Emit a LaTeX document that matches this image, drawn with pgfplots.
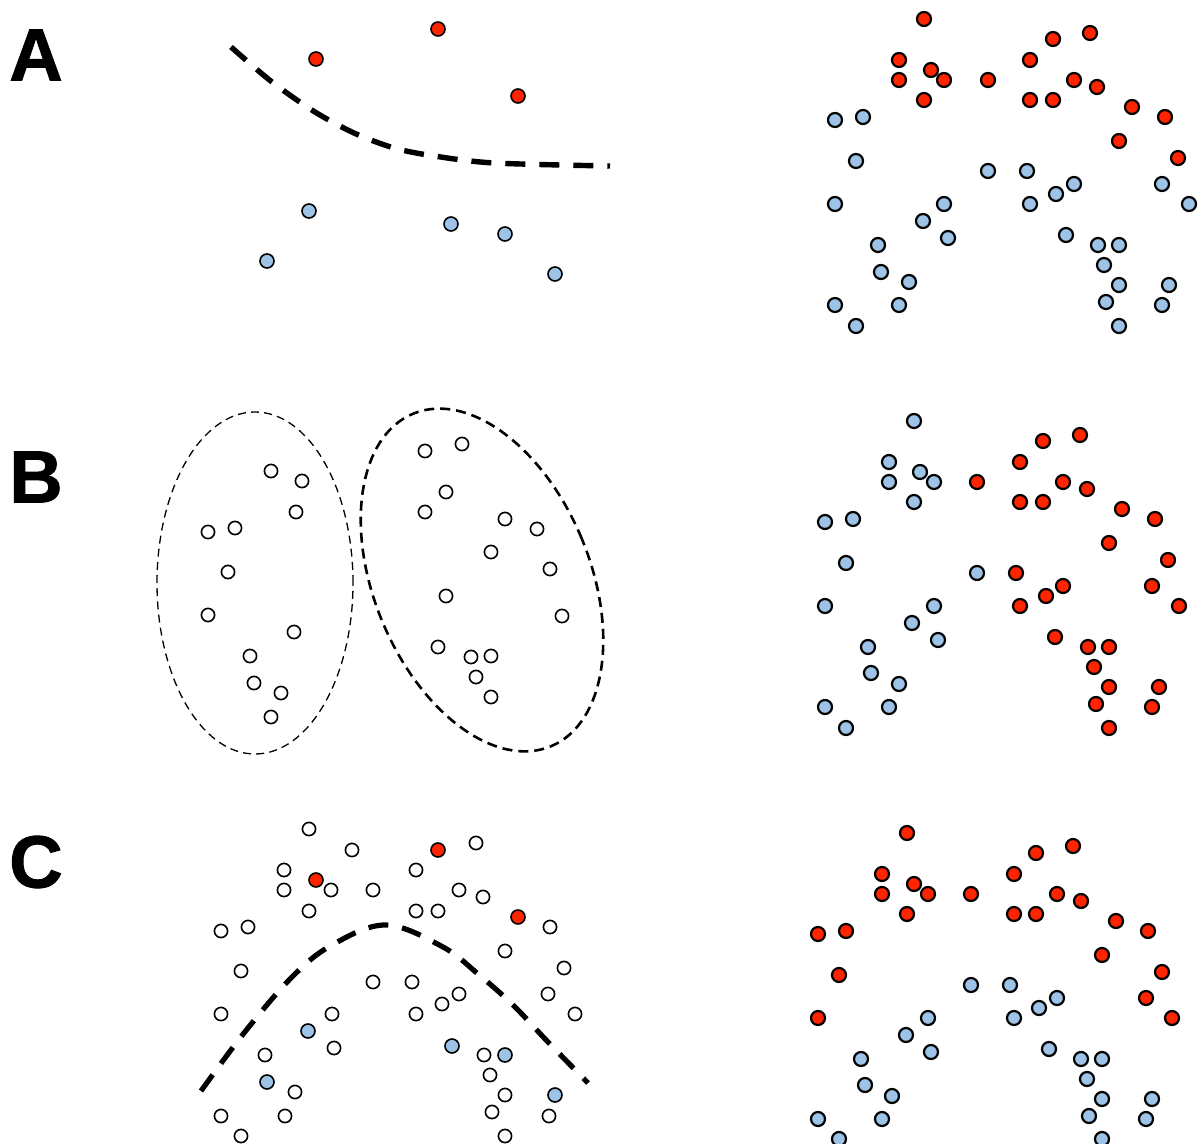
\documentclass[border=0pt]{standalone}
\usepackage{fontspec}
\setmainfont{Liberation Sans}
\newfontfamily\heavyfont[BoldFeatures={FakeBold=1.2}]{Liberation Sans}
\usepackage{pgfplots}
\pgfplotsset{compat=1.18}
\definecolor{dred}{RGB}{255,36,0}
\definecolor{dblue}{RGB}{157,195,230}
\begin{document}
\begin{tikzpicture}
\begin{axis}[
  width=599.5pt, height=572pt, scale only axis,
  xmin=0, xmax=1199, ymin=0, ymax=1144, y dir=reverse,
  hide axis, clip marker paths=true,
  redR/.style={only marks, mark=*, mark size=3.5pt, mark options={fill=dred, draw=black, line width=1.1pt}},
  bluR/.style={only marks, mark=*, mark size=3.5pt, mark options={fill=dblue, draw=black, line width=1.1pt}},
  redL/.style={only marks, mark=*, mark size=3.5pt, mark options={fill=dred, draw=black, line width=0.8pt}},
  bluL/.style={only marks, mark=*, mark size=3.5pt, mark options={fill=dblue, draw=black, line width=0.8pt}},
  opn/.style={only marks, mark=*, mark size=3.3pt, mark options={fill=white, draw=black, line width=0.8pt}},
]
\coordinate (bl) at (rel axis cs:0,0);
\coordinate (tr) at (rel axis cs:1,1);
% ---------------- Panel A left
\addplot[black, line width=2.7pt, dash pattern=on 10pt off 7pt, smooth] coordinates {
(231,47) (272,82) (315,112) (354,133) (394,148) (434,156) (494,163) (610,166)};
\addplot[redL] coordinates {(316,59) (438,29) (518,96)};
\addplot[bluL] coordinates {(309,211) (267,261) (451,224) (505,234) (555,274)};
% ---------------- Panel A right
\addplot[redR] coordinates {
(924,19) (1053,39) (1090,33) (899,60) (931,70) (944,80) (899,80) (924,100)
(988,80) (1030,60) (1074,80) (1097,87) (1030,100) (1053,100) (1132,107)
(1165,117) (1119,141) (1178,158)};
\addplot[bluR] coordinates {
(835,120) (863,117) (856,161) (988,171) (1027,171) (1074,184) (1056,194)
(1162,184) (835,204) (944,204) (1030,204) (1189,204) (923,221) (948,238)
(1066,235) (878,245) (1098,245) (1119,245) (1104,265) (881,272) (909,282)
(1119,285) (1169,285) (835,305) (899,305) (1106,302) (1162,305) (856,326)
(1119,326)};
% ---------------- Panel B left
\draw[black, line width=0.65pt, dash pattern=on 4pt off 2.6pt] (axis cs:255,583) ellipse [x radius=49pt, y radius=85.5pt];
\draw[black, line width=1.3pt, dash pattern=on 5pt off 3pt] (axis cs:482,580) ellipse [x radius=54pt, y radius=90pt, rotate=22.5];
\addplot[opn] coordinates {
(271,471) (302,481) (296,512) (208,532) (235,528) (228,572) (208,615)
(294,632) (250,656) (254,683) (281,693) (271,717)};
\addplot[opn] coordinates {
(425,451) (462,444) (446,492) (425,512) (505,519) (537,529) (491,552)
(550,569) (446,596) (562,616) (438,647) (471,657) (491,656) (476,677) (491,697)};
% ---------------- Panel B right
\addplot[bluR] coordinates {
(914,421) (889,462) (920,472) (934,482) (889,482) (914,502) (825,522)
(853,519) (846,563) (977,573) (825,606) (934,606) (912,623) (938,640)
(868,647) (871,673) (899,684) (825,707) (889,707) (846,728)};
\addplot[redR] coordinates {
(1043,441) (1080,435) (1020,462) (977,482) (1063,482) (1087,489) (1020,502)
(1043,502) (1122,509) (1155,519) (1109,543) (1168,560) (1016,573) (1063,586)
(1046,596) (1020,606) (1152,586) (1179,606) (1055,637) (1088,647) (1109,647)
(1094,667) (1109,687) (1159,687) (1096,704) (1152,707) (1109,728)};
% ---------------- Panel C left
\addplot[black, line width=2.6pt, dash pattern=on 10pt off 7pt, smooth, tension=0.6] coordinates {
(201,1091) (244,1033) (292,977) (332,945) (386,925) (443,947)
(478,974) (513,1005) (548,1042) (588,1083)};
\addplot[opn] coordinates {
(309,829) (352,850) (476,843) (284,870) (284,890) (331,890) (373,890)
(416,870) (459,890) (483,897) (309,911) (416,911) (438,911) (221,931)
(248,927) (550,927) (505,951) (241,971) (564,968) (373,982) (412,982)
(459,994) (442,1004) (548,994) (221,1014) (332,1014) (416,1014) (575,1014)
(334,1048) (265,1055) (484,1055) (490,1075) (295,1092) (505,1095) (221,1116)
(285,1116) (492,1112) (549,1116) (241,1136) (505,1136)};
\addplot[redL] coordinates {(316,880) (438,850) (518,917)};
\addplot[bluL] coordinates {(308,1031) (267,1082) (452,1046) (505,1055) (555,1095)};
% ---------------- Panel C right
\addplot[redR] coordinates {
(907,833) (1036,853) (1073,846) (882,874) (914,884) (928,894) (882,894)
(907,914) (971,894) (1014,874) (1057,894) (1081,901) (1014,914) (1036,914)
(1116,921) (1148,931) (1102,955) (1162,972) (1146,998) (1172,1018)
(818,934) (846,931) (839,975) (818,1018)};
\addplot[bluR] coordinates {
(971,985) (1010,985) (1057,998) (1039,1008) (1014,1018) (928,1018) (906,1035)
(931,1052) (1049,1049) (861,1059) (1081,1059) (1102,1059) (1087,1079)
(865,1085) (892,1096) (1102,1099) (1152,1099) (818,1119) (882,1119)
(1089,1116) (1146,1119) (839,1139) (1102,1139)};
% ---------------- Panel letters
\node[font=\heavyfont\fontsize{37}{40}\selectfont\bfseries] at (axis cs:36,55) {A};
\node[font=\heavyfont\fontsize{37}{40}\selectfont\bfseries] at (axis cs:36,477) {B};
\node[font=\heavyfont\fontsize{37}{40}\selectfont\bfseries] at (axis cs:36,862) {C};
\end{axis}
\pgfresetboundingbox
\path (bl) rectangle (tr);
\end{tikzpicture}
\end{document}
